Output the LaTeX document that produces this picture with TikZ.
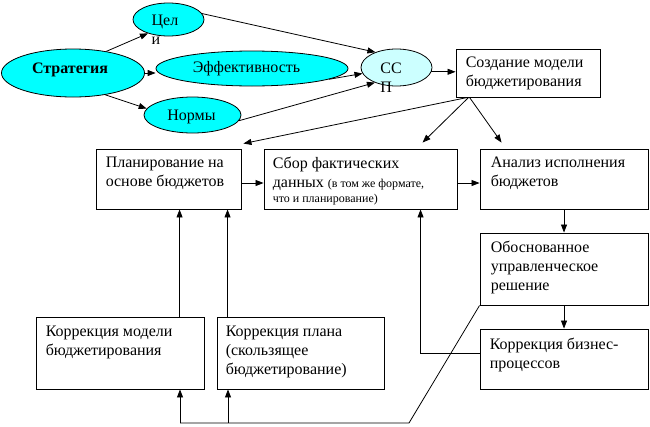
\documentclass[tikz,border=0pt]{standalone}
\usepackage{fontspec}
\setmainfont{Liberation Serif}
\usetikzlibrary{arrows.meta,shapes.geometric,calc}
\definecolor{lcyan}{HTML}{CCFFFF}
\definecolor{fcyan}{HTML}{00FFFF}
\begin{document}
\begin{tikzpicture}[x=1pt,y=-1pt,
  every node/.style={inner sep=0pt},
  mainfont/.style={font=\fontsize{16}{19}\selectfont},
  ell/.style={ellipse,draw=black,line width=0.8pt,fill=fcyan},
  box/.style={rectangle,draw=black,line width=0.9pt,fill=white},
  btxt/.style={anchor=north west,inner sep=0pt,xshift=10pt,yshift=-8.5pt,align=left,mainfont},
  etxt/.style={inner sep=0pt,align=left,mainfont},
  arr/.style={line width=0.8pt,-{Triangle[length=8pt,width=6pt]}},
  ln/.style={line width=0.8pt}
]
\useasboundingbox (0,0) rectangle (650,426);

% ellipses
\node[ell,minimum width=71,minimum height=33,
  label={[etxt,xshift=-3.5pt,yshift=-10.5pt]center:{Цел\\и}}] (celi) at (168.5,19.5) {};
\node[ell,minimum width=143,minimum height=48,
  label={[etxt,xshift=-3pt,yshift=3pt]center:{\bfseries Стратегия}}] (strat) at (73,73) {};
\node[ell,minimum width=192,minimum height=35,
  label={[etxt,xshift=-5.5pt]center:{Эффективность}}] (eff) at (252,68.5) {};
\node[ell,minimum width=97,minimum height=36,
  label={[etxt,xshift=-1pt,yshift=-2pt]center:{Нормы}}] (normy) at (192.5,115) {};
\node[ell,fill=lcyan,minimum width=71,minimum height=37,
  label={[etxt,xshift=-5.5pt,yshift=-10pt]center:{СС\\П}}] (ssp) at (396.5,67.5) {};

% boxes
\node[box,minimum width=144,minimum height=48,
  label={[btxt]north west:{Создание модели\\бюджетирования}}] (sozd) at (528,73) {};
\node[box,minimum width=145,minimum height=60,
  label={[btxt]north west:{Планирование на\\основе бюджетов}}] (plan) at (168.5,179) {};
\node[box,minimum width=193,minimum height=60,
  label={[btxt,xshift=-1pt]north west:{Сбор фактических\\данных {\fontsize{12}{14}\selectfont (в том же формате,}\\[-4pt]{\fontsize{12}{14}\selectfont что и планирование)}}}] (sbor) at (360.5,179) {};
\node[box,minimum width=168,minimum height=60,
  label={[btxt,xshift=1pt]north west:{Анализ исполнения\\бюджетов}}] (analiz) at (564,179) {};
\node[box,minimum width=168,minimum height=72,
  label={[btxt,xshift=1pt]north west:{Обоснованное\\управленческое\\решение}}] (obosn) at (564,269) {};
\node[box,minimum width=168,minimum height=60,
  label={[btxt,yshift=-1pt]north west:{Коррекция бизнес-\\процессов}}] (korb) at (564,359) {};
\node[box,minimum width=168,minimum height=72,
  label={[btxt,yshift=-1pt]north west:{Коррекция модели\\бюджетирования}}] (korm) at (120,353) {};
\node[box,minimum width=167,minimum height=72,
  label={[btxt,xshift=-1pt,yshift=-1pt]north west:{Коррекция плана\\(скользящее\\бюджетирование)}}] (korp) at (300.5,353) {};

% connectors among ellipses
\draw[arr] (strat.33) -- (celi.214);
\draw[arr] (strat.east) -- (eff.west |- strat.east);
\draw[arr] (strat.-34) -- (normy.172);
\draw[arr] (celi.10) -- (ssp.144);
\draw[arr] (eff.-8) -- (ssp.190);
\draw[arr] (normy.-7) -- (ssp.215);
\draw[arr] (ssp.-7) -- (ssp.-7 -| sozd.west);

% from Создание
\draw[arr] ($(sozd.south west)+(12,0)$) -- ($(plan.north east)+(2,-5)$);
\draw[arr] ($(sozd.south west)+(13,0)$) -- ($(sbor.north west)+(159,-6)$);
\draw[arr] ($(sozd.south west)+(14,0)$) -- ($(analiz.north west)+(22,-6)$);

% main row
\draw[arr] ($(plan.east)+(0,4)$) -- ($(sbor.west)+(0,4)$);
\draw[arr] ($(sbor.east)+(0,4)$) -- ($(analiz.west)+(0,4)$);
\draw[arr] (analiz.south) -- (obosn.north);
\draw[arr] (obosn.south) -- (korb.north);

% corrections up
\draw[arr] ($(korm.north west)+(144,0)$) -- ($(plan.south west)+(84,0)$);
\draw[arr] ($(korp.north west)+(11,0)$) -- ($(plan.south west)+(132,0)$);
\draw[arr] ($(korb.west)+(0,-6)$) -| ($(sbor.south west)+(157,0)$);

% bottom feedback
\coordinate (bd) at (409,423);
\coordinate (bl) at (180,423);
\coordinate (bp) at (228,423);
\draw[ln] (obosn.south west) -- (bd) -- (bl);
\draw[arr] (bl) -- (bl |- korm.south);
\draw[arr] (bp) -- (bp |- korp.south);
\end{tikzpicture}
\end{document}
